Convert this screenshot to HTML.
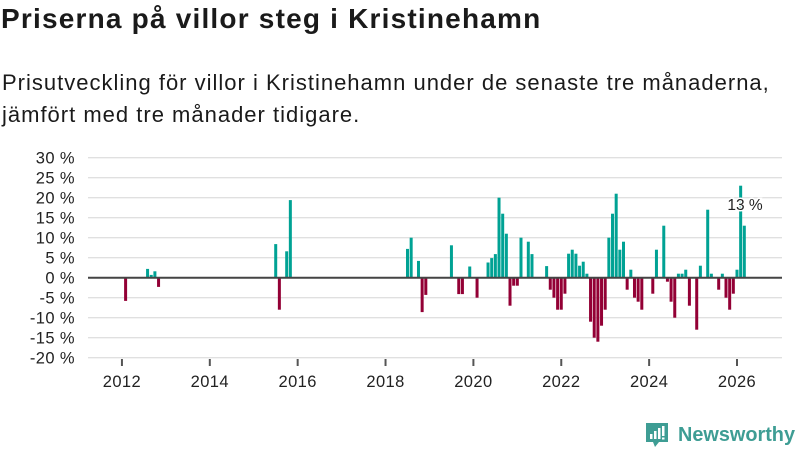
<!DOCTYPE html>
<html><head><meta charset="utf-8"><style>
body{margin:0;width:800px;height:450px;background:#fff;overflow:hidden;font-family:"Liberation Sans","DejaVu Sans",sans-serif;color:#1a1a1a}
#title{position:absolute;left:1px;top:3px;font-size:28px;font-weight:bold;margin:0;letter-spacing:1.2px}
#sub{position:absolute;left:2px;top:67px;font-size:22px;line-height:32px;margin:0;width:792px;letter-spacing:1px}
svg{position:absolute;left:0;top:0}
</style></head><body>
<h1 id="title">Priserna på villor steg i Kristinehamn</h1>
<p id="sub">Prisutveckling för villor i Kristinehamn under de senaste tre månaderna, jämfört med tre månader tidigare.</p>
<svg id="chart" width="800" height="450"></svg>
<script>
// months since Jan 2020, value in %
const months=[-95,-89,-88,-87,-86,-54,-53,-51,-50,-18,-17,-15,-14,-13,-6,-4,-3,-1,1,4,5,6,7,8,9,10,11,12,13,15,16,20,21,22,23,24,25,26,27,28,29,30,31,32,33,34,35,36,37,38,39,40,41,42,43,44,45,46,49,50,52,53,54,55,56,57,58,59,61,62,64,65,67,68,69,70,71,72,73,74];
const values=[-5.8,2.2,0.7,1.6,-2.3,8.4,-8,6.6,19.4,7.2,10,4.2,-8.6,-4.3,8.1,-4.1,-4.1,2.8,-5,3.8,4.9,5.9,20,16,11,-7,-2,-2,10,9,5.9,2.9,-3,-5,-8,-8,-4,6,7,6,3,4,1,-11,-15,-16,-12,-8,10,16,21,7,9,-3,2,-5,-6,-8,-4,7,13,-1,-6,-10,1,1,2,-7,-13,3,17,1,-3,1,-5,-8,-4,2,23,13];
const yTicks=[30,25,20,15,10,5,0,-5,-10,-15,-20];
const xTicks=[2012,2014,2016,2018,2020,2022,2024,2026];
const NS="http://www.w3.org/2000/svg";
const svg=document.getElementById('chart');
const x=m=>473.4+m*3.661;
const y=v=>277.7-v*4;
function mk(t,a){const e=document.createElementNS(NS,t);for(const k in a)e.setAttribute(k,a[k]);svg.appendChild(e);return e;}
yTicks.forEach(t=>{
  const g=mk('line',{x1:88,x2:782,y1:y(t),y2:y(t),stroke:'#e0e0e0','stroke-width':1.3});
  
  
  const l=mk('text',{x:75,y:y(t)+6,'text-anchor':'end','font-size':16.5,'letter-spacing':0.4,fill:'#222'});
  l.textContent=t+' %';
  
  
});
xTicks.forEach(yr=>{
  const m=(yr-2020)*12;
  const tk=mk('line',{x1:x(m),x2:x(m),y1:359,y2:366,stroke:'#555','stroke-width':2});
  
  
  const l=mk('text',{x:x(m),y:387,'text-anchor':'middle','font-size':16.5,'letter-spacing':0.4,fill:'#222'});
  l.textContent=yr;
  
  
});
months.forEach((m,i)=>{
  const v=values[i];
  const b=mk('rect',{x:x(m)-1.5,width:3,y:Math.min(y(0),y(v)),height:Math.abs(y(v)-y(0)),fill:v>=0?'#00a294':'#930035'});
  
  
});
const z=mk('line',{x1:88,x2:782,y1:y(0),y2:y(0),stroke:'#444','stroke-width':2});


const lastV=values[values.length-1];
const lab=mk('text',{x:745,y:210,'text-anchor':'middle','font-size':15.5,fill:'#222',stroke:'#fff','stroke-width':3,'paint-order':'stroke'});
lab.textContent=Math.round(lastV)+' %';


</script>
<svg width="800" height="450" style="pointer-events:none">
<path d="M646 423h22v19h-9l-4 5-2-5h-7z" fill="#3e9d94"/>
<rect x="650" y="434" width="2.5" height="5" fill="#fff"/><rect x="654" y="431" width="2.5" height="8" fill="#fff"/><rect x="658" y="428" width="2.5" height="11" fill="#fff"/><rect x="662" y="426" width="2.5" height="10" fill="#fff"/><rect x="662" y="437.5" width="2.5" height="2" fill="#fff"/>
<text x="678" y="441" font-size="20" font-weight="bold" fill="#3e9d94" font-family="Liberation Sans, sans-serif" textLength="117" lengthAdjust="spacingAndGlyphs">Newsworthy</text>
</svg>
</body></html>
